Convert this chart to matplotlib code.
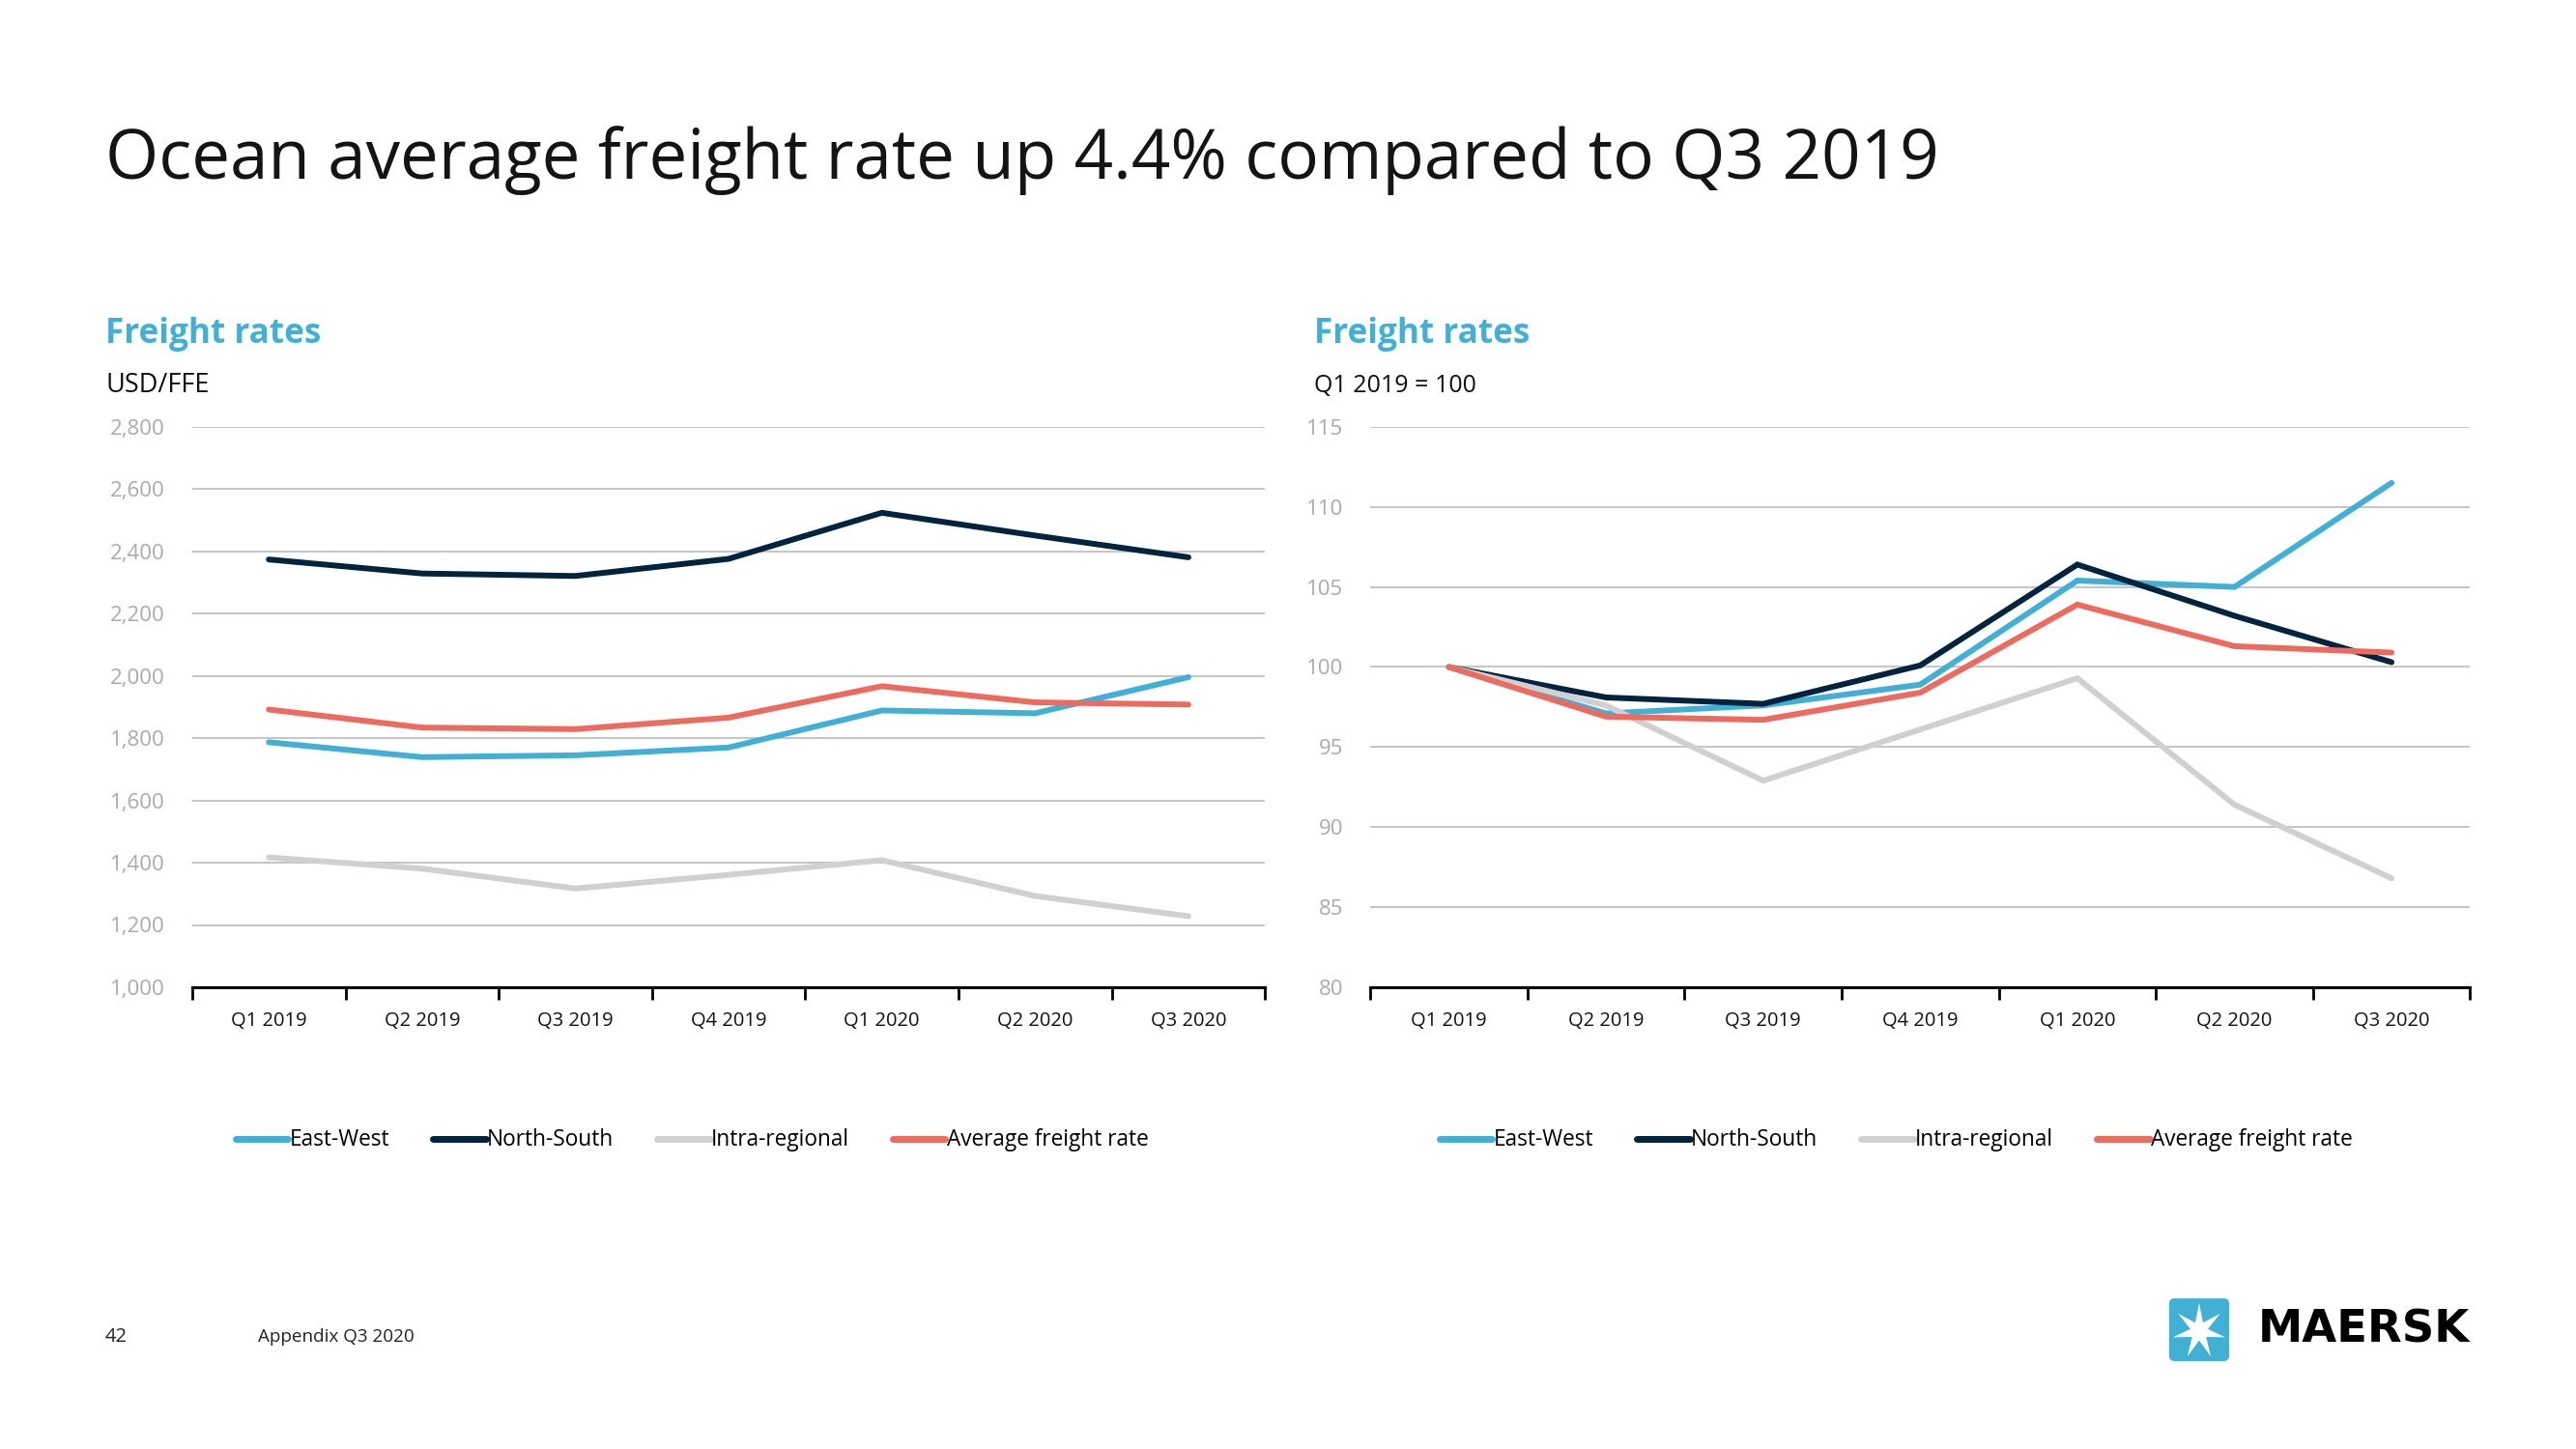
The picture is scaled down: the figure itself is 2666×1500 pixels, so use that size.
import numpy as np
import matplotlib
matplotlib.use("Agg")
import matplotlib.pyplot as plt
from matplotlib.patches import FancyBboxPatch, Polygon

# --- data ---
quarters = ["Q1 2019", "Q2 2019", "Q3 2019", "Q4 2019", "Q1 2020", "Q2 2020", "Q3 2020"]
series_names = ["East-West", "North-South", "Intra-regional", "Average freight rate"]

# USD/FFE
usd_east_west = [1787, 1739, 1745, 1770, 1889, 1880, 1996]
usd_north_south = [2374, 2329, 2321, 2376, 2524, 2451, 2381]
usd_intra = [1417, 1381, 1317, 1361, 1408, 1293, 1228]
usd_average = [1892, 1834, 1829, 1866, 1967, 1915, 1908]

# index Q1 2019 = 100
idx_east_west = [100, 97.1, 97.6, 98.9, 105.4, 105.0, 111.5]
idx_north_south = [100, 98.1, 97.7, 100.1, 106.4, 103.2, 100.3]
idx_intra = [100, 97.6, 92.9, 96.1, 99.3, 91.4, 86.8]
idx_average = [100, 96.9, 96.7, 98.4, 103.9, 101.3, 100.9]

colors = ["#42b0d5", "#00243d", "#d0d0d0", "#ec6a5e"]
blue = "#42b0d5"

plt.rcParams['font.family'] = ['Open Sans', 'DejaVu Sans']

fig = plt.figure(figsize=(26.66, 15), dpi=100)


def draw_panel(rect, data, yticks, ylabels, legend_x):
    ax = fig.add_axes(rect)
    x = np.arange(len(quarters))
    handles = []
    for vals, c, name in zip(data, colors, series_names):
        h, = ax.plot(x, vals, color=c, lw=4.3, solid_capstyle='round',
                     solid_joinstyle='miter', label=name)
        handles.append(h)
    ax.set_xlim(-0.5, len(quarters) - 0.5)
    ax.set_ylim(yticks[0], yticks[-1])
    for s in ["top", "right", "left"]:
        ax.spines[s].set_visible(False)
    ax.spines["bottom"].set_color("black")
    ax.spines["bottom"].set_linewidth(2.2)
    ax.set_yticks(yticks)
    ax.set_yticklabels(ylabels, color="#aaaaaa", fontsize=16)
    ax.tick_params(axis="y", length=0, pad=20)
    for yv in yticks[1:]:
        ax.axhline(yv, color="#c0c0c0", lw=1.3, zorder=0)
    ax.set_xticks(np.arange(-0.5, len(quarters)))
    ax.set_xticklabels([])
    ax.tick_params(axis="x", which="major", length=9, width=2, color="black", direction="out")
    ax.set_xticks(x, minor=True)
    ax.set_xticklabels(quarters, minor=True, fontsize=14.5, color="#111111")
    ax.tick_params(axis="x", which="minor", length=0, pad=18)
    leg = fig.legend(handles=handles, loc="center", bbox_to_anchor=(legend_x, 0.213),
                     ncol=4, frameon=False, fontsize=16.3, handlelength=2.4,
                     handletextpad=0.05, columnspacing=2.0)
    for lh in leg.get_lines():
        lh.set_linewidth(5)
    return ax


usd_ticks = list(range(1000, 2801, 200))
draw_panel([0.0746, 0.3187, 0.4165, 0.3867],
           [usd_east_west, usd_north_south, usd_intra, usd_average],
           usd_ticks, [f"{v:,}" for v in usd_ticks], 0.2686)

idx_ticks = list(range(80, 116, 5))
draw_panel([0.532, 0.3187, 0.4269, 0.3867],
           [idx_east_west, idx_north_south, idx_intra, idx_average],
           idx_ticks, [str(v) for v in idx_ticks], 0.736)

# titles
fig.text(0.0409, 0.889, "Ocean average freight rate up 4.4% compared to Q3 2019",
         fontsize=51, color="#141414", va="center", ha="left")
fig.text(0.0409, 0.769, "Freight rates", fontsize=25.3, fontweight="bold", color=blue, va="center")
fig.text(0.510, 0.769, "Freight rates", fontsize=25.3, fontweight="bold", color=blue, va="center")
fig.text(0.0409, 0.734, "USD/FFE", fontsize=19.5, color="#111111", va="center")
fig.text(0.510, 0.734, "Q1 2019 = 100", fontsize=18, color="#111111", va="center")

# footer
fig.text(0.0409, 0.0773, "42", fontsize=14.5, color="#222222", va="center")
fig.text(0.1002, 0.0773, "Appendix Q3 2020", fontsize=13.6, color="#222222", va="center")

# logo
lax = fig.add_axes([0.8413, 0.0593, 0.0248, 0.046])
lax.set_xlim(0, 1)
lax.set_ylim(0, 1)
lax.axis("off")
lax.add_patch(FancyBboxPatch((0.03, 0.03), 0.94, 0.94, boxstyle="round,pad=0,rounding_size=0.08",
                             fc=blue, ec="none"))
ang = np.pi / 2 + np.arange(14) * np.pi / 7
rad = np.where(np.arange(14) % 2 == 0, 0.42, 0.14)
lax.add_patch(Polygon(np.c_[0.5 + rad * np.cos(ang), 0.48 + rad * np.sin(ang)], fc="white", ec="none"))
fig.text(0.9587, 0.082, "MAERSK", fontsize=33.5, fontweight="bold", color="black",
         ha="right", va="center", family=["DejaVu Sans"])

fig.savefig("out.png", dpi=100, facecolor="white")
